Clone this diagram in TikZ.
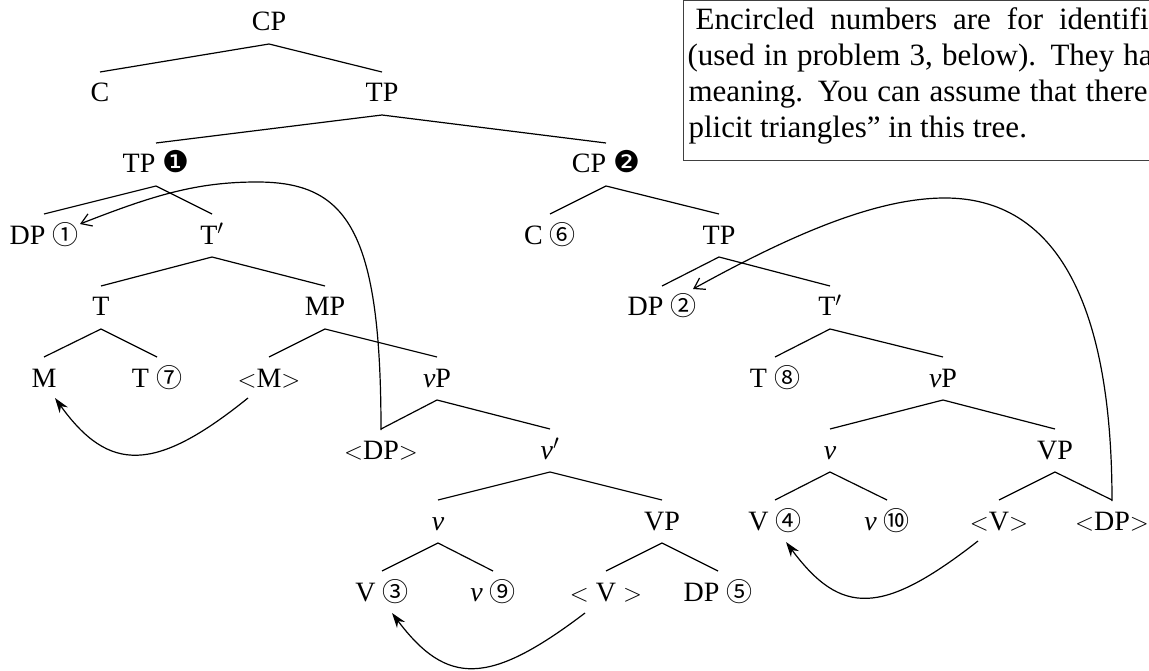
\documentclass[tikz,border=0pt]{standalone}
\usepackage{fontspec}
\setmainfont{Liberation Serif}
\newfontfamily\circfont{DejaVu Sans}
\newfontfamily\cjkcirc{Noto Sans CJK SC}
\usetikzlibrary{arrows.meta}
\newcommand{\cn}[1]{{\cjkcirc\fontsize{26}{26}\selectfont #1}}
\newcommand{\cb}[1]{{\circfont\fontsize{30}{30}\selectfont #1}}
\newcommand{\vi}{\textit{v}}
\newcommand{\treeedge}[2]{\draw ([yshift=-13pt]#1.base) -- ([yshift=30pt]#2.base);}
\begin{document}
\begin{tikzpicture}[x=1pt,y=-1pt, line width=1.2pt,
  lab/.style={anchor=base, inner sep=0pt, font=\fontsize{28}{34}\selectfont},
  boxtxt/.style={anchor=base west, inner sep=0pt, font=\fontsize{31}{36}\selectfont},
  headmove/.style={-{Stealth[length=15pt,width=10pt]}},
  dpmove/.style={-{Straight Barb[length=10pt,width=13pt]}}]
\useasboundingbox (0,0) rectangle (1149,671);
% level 0
\node[lab] (cp) at (269,31) {CP};
% level 1
\node[lab] (c) at (100,102) {C};
\node[lab] (tp) at (382,102) {TP};
% level 2
\node[lab] (tpA) at (156,173) {TP \cb{❶}};
\node[lab] (cpB) at (606,173) {CP \cb{❷}};
% level 3
\node[lab] (dp1) at (44,244) {DP \cn{①}};
\node[lab] (tbarA) at (212,244) {T$'$};
\node[lab] (c6) at (550,244) {C \cn{⑥}};
\node[lab] (tpB) at (719,244) {TP};
% level 4
\node[lab] (tA) at (101,316) {T};
\node[lab] (mp) at (325,316) {MP};
\node[lab] (dp2) at (662,316) {DP \cn{②}};
\node[lab] (tbarB) at (830,316) {T$'$};
% level 5
\node[lab] (m) at (44,387) {M};
\node[lab] (t7) at (157,387) {T \cn{⑦}};
\node[lab] (mtr) at (269,387) {$<$M$>$};
\node[lab] (vpA) at (437,387) {\vi P};
\node[lab] (t8) at (775,387) {T \cn{⑧}};
\node[lab] (vpB) at (943,387) {\vi P};
% level 6
\node[lab] (dptrA) at (381,459) {$<$DP$>$};
\node[lab] (vbarA) at (550,459) {\vi$'$};
\node[lab] (vB) at (830,459) {\vi};
\node[lab] (VPB) at (1055,459) {VP};
% level 7
\node[lab] (vA) at (438,530) {\vi};
\node[lab] (VPA) at (662,530) {VP};
\node[lab] (v4) at (775,530) {V \cn{④}};
\node[lab] (v10) at (887,530) {\vi\ \cn{⑩}};
\node[lab] (vtrB) at (999,530) {$<$V$>$};
\node[lab] (dptrB) at (1112,530) {$<$DP$>$};
% level 8
\node[lab] (v3) at (382,601) {V \cn{③}};
\node[lab] (v9) at (493,601) {\vi\ \cn{⑨}};
\node[lab] (vtrA) at (606,601) {$<$ V $>$};
\node[lab] (dp5) at (718,601) {DP \cn{⑤}};
% branches
\treeedge{cp}{c}\treeedge{cp}{tp}
\treeedge{tp}{tpA}\treeedge{tp}{cpB}
\treeedge{tpA}{dp1}\treeedge{tpA}{tbarA}
\treeedge{tbarA}{tA}\treeedge{tbarA}{mp}
\treeedge{tA}{m}\treeedge{tA}{t7}
\treeedge{mp}{mtr}\treeedge{mp}{vpA}
\treeedge{vpA}{dptrA}\treeedge{vpA}{vbarA}
\treeedge{vbarA}{vA}\treeedge{vbarA}{VPA}
\treeedge{vA}{v3}\treeedge{vA}{v9}
\treeedge{VPA}{vtrA}\treeedge{VPA}{dp5}
\treeedge{cpB}{c6}\treeedge{cpB}{tpB}
\treeedge{tpB}{dp2}\treeedge{tpB}{tbarB}
\treeedge{tbarB}{t8}\treeedge{tbarB}{vpB}
\treeedge{vpB}{vB}\treeedge{vpB}{VPB}
\treeedge{vB}{v4}\treeedge{vB}{v10}
\treeedge{VPB}{vtrB}\treeedge{VPB}{dptrB}
% movement arrows
\coordinate (topA) at (257,182);
\coordinate (topB) at (945,198);
\draw[headmove] ([shift={(-21,11)}]mtr.base) .. controls +(-93,75) and +(54,75) .. ([shift={(11,11)}]m.base);
\draw[headmove] ([shift={(-21,12)}]vtrA.base) .. controls +(-96,73) and +(55,73) .. ([shift={(10,12)}]v3.base);
\draw[headmove] ([shift={(-21,11)}]vtrB.base) .. controls +(-96,75) and +(55,74) .. ([shift={(11,12)}]v4.base);
\draw[dpmove] ([yshift=29pt]dptrA.base) .. controls +(0,-200) and +(90,0) .. (topA) .. controls +(-60,0) and +(74,-29) .. ([shift={(36,-20)}]dp1.base);
\draw[dpmove] ([yshift=29pt]dptrB.base) .. controls +(0,-200) and +(110,0) .. (topB) .. controls +(-70,0) and +(96,-53) .. ([shift={(31,-27)}]dp2.base);
% note box
\draw[line width=1pt, black!75] (683,0.5) rectangle (1170,161);
\node[boxtxt] (l1) at (695,30) {\makebox[453pt][s]{Encircled numbers are for identifi}};
\node[boxtxt] (l2) at (687,66) {\makebox[465pt][s]{(used in problem 3, below). They ha}};
\node[boxtxt] (l3) at (688,102) {\makebox[459pt][s]{meaning. You can assume that there}};
\node[boxtxt] (l4) at (688,138) {plicit triangles” in this tree.};
\end{tikzpicture}
\end{document}
